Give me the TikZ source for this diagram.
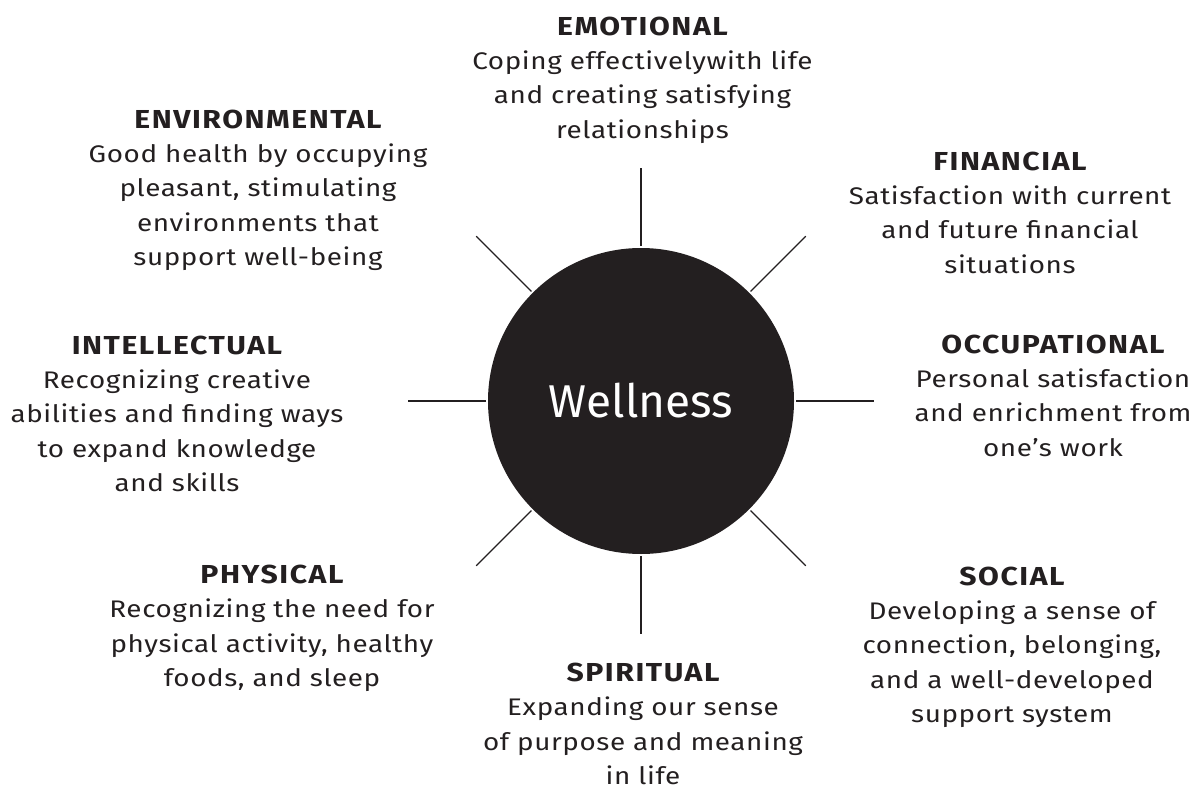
\documentclass[tikz,border=0pt]{standalone}
\usepackage{fontspec}
\setmainfont{Fira Sans}[FakeStretch=1.16, LetterSpace=2.5]
\newfontfamily\ttlfont{Fira Sans}[FakeStretch=1.16, LetterSpace=6]
\newfontfamily\hubfont{Fira Sans}
\definecolor{ink}{HTML}{231F20}
\begin{document}
\begin{tikzpicture}[x=0.75pt,y=-0.75pt,
  block/.style={anchor=north, align=center, inner sep=0pt, outer sep=0pt, text=ink,
    font=\fontsize{18}{25.7}\selectfont},
  spoke/.style={draw=ink, line width=0.9pt},
  hub/.style={circle, fill=ink, draw=none, inner sep=0pt, outer sep=0pt,
    minimum size=229.5pt, text=white, font=\hubfont\fontsize{34.5}{40}\selectfont}]
\newcommand{\ttl}[1]{{\ttlfont\fontsize{19.5}{25.7}\selectfont\bfseries #1}}
\useasboundingbox (0,0) rectangle (1196,792);
\node[hub] (W) at (641,401) {Wellness};
\foreach \a in {0,45,...,315}{
  \draw[spoke] ([shift={(\a:1.5pt)}]W.\a) -- ([shift={(\a:60pt)}]W.\a);
}
\node[block] (emo) at (642.5,17) {\ttl{EMOTIONAL}\\Coping effectivelywith life\\and creating satisfying\\relationships};
\node[block] (env) at (258,110) {\ttl{ENVIRONMENTAL}\\Good health by occupying\\pleasant, stimulating\\environments that\\support well-being};
\node[block] (fin) at (1010,152) {\ttl{FINANCIAL}\\Satisfaction with current\\and future financial\\situations};
\node[block] (int) at (177,336) {\ttl{INTELLECTUAL}\\Recognizing creative\\abilities and finding ways\\to expand knowledge\\and skills};
\node[block] (occ) at (1053,335) {\ttl{OCCUPATIONAL}\\Personal satisfaction\\and enrichment from\\one’s work};
\node[block] (phy) at (272,565) {\ttl{PHYSICAL}\\Recognizing the need for\\physical activity, healthy\\foods, and sleep};
\node[block] (soc) at (1012,567) {\ttl{SOCIAL}\\Developing a sense of\\connection, belonging,\\and a well-developed\\support system};
\node[block] (spi) at (643,663) {\ttl{SPIRITUAL}\\Expanding our sense\\of purpose and meaning\\in life};
\end{tikzpicture}
\end{document}
